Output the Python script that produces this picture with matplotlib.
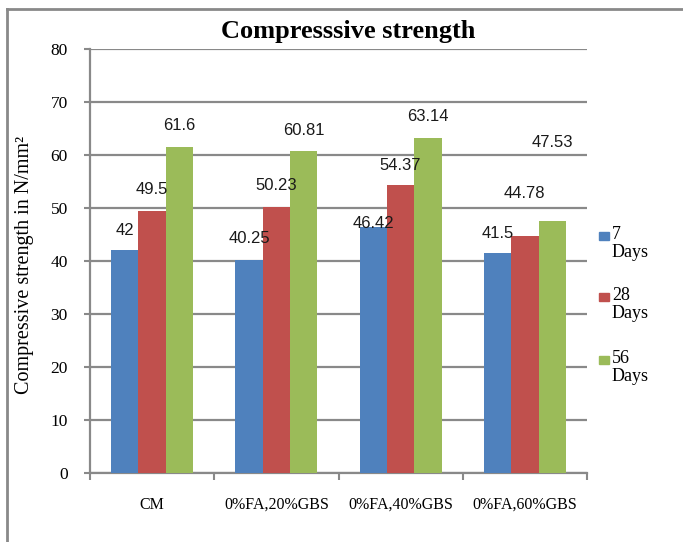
import matplotlib
matplotlib.use('Agg')
import matplotlib.pyplot as plt
from matplotlib.lines import Line2D
from matplotlib.patches import Rectangle
import numpy as np

# data
categories = ['CM', '0%FA,20%GBS', '0%FA,40%GBS', '0%FA,60%GBS']
series = ['7\nDays', '28\nDays', '56\nDays']
day7 = [42, 40.25, 46.42, 41.5]
day28 = [49.5, 50.23, 54.37, 44.78]
day56 = [61.6, 60.81, 63.14, 47.53]
# where each value label sits (y, in data units) -- placed by hand in the original
label_y7 = [45.8, 44.2, 47.0, 45.1]
label_y28 = [53.4, 54.2, 58.1, 52.8]
label_y56 = [65.5, 64.7, 67.2, 62.3]

colors = ['#4F81BD', '#C0504D', '#9BBB59']
grey = '#898989'
serif = ['Liberation Serif', 'DejaVu Serif']
sans = ['Liberation Sans', 'DejaVu Sans']

fig = plt.figure(figsize=(6.83, 5.42), dpi=100)
ax = fig.add_axes([90 / 683, 1 - 473 / 542, 497 / 683, 424 / 542])

width = 0.22
x = np.arange(len(categories))
values = [day7, day28, day56]
labels_y = [label_y7, label_y28, label_y56]
for i, (vals, ly) in enumerate(zip(values, labels_y)):
    pos = x + (i - 1) * width
    ax.bar(pos, vals, width=width, color=colors[i], zorder=3)
    for px, v, y in zip(pos, vals, ly):
        ax.text(px, y, '{:g}'.format(v), ha='center', va='center',
                fontsize=12, family=sans, color='#1a1a1a', zorder=4)

ax.set_xlim(-0.5, len(categories) - 0.5)
ax.set_ylim(0, 80)
ax.set_yticks(range(0, 81, 10))
ax.set_yticklabels([str(v) for v in range(0, 81, 10)], family=serif, fontsize=12.5)
ax.tick_params(axis='y', length=4, width=1.5, color=grey, pad=12)

# boundary tick marks + centred category labels
ax.set_xticks(np.arange(-0.5, len(categories), 1.0))
ax.set_xticklabels([])
ax.tick_params(axis='x', which='major', direction='out', length=5, width=1.5, color=grey)
ax.set_xticks(x, minor=True)
ax.set_xticklabels(categories, minor=True, family=serif, fontsize=11.5)
ax.tick_params(axis='x', which='minor', length=0, pad=17)

ax.grid(axis='y', color=grey, linewidth=1.6, zorder=0)
for s in ['top', 'right']:
    ax.spines[s].set_visible(False)
for s in ['left', 'bottom']:
    ax.spines[s].set_color(grey)
    ax.spines[s].set_linewidth(1.6)

ax.set_title('Compresssive strength', family=serif, fontsize=19,
             fontweight='bold', pad=8, x=0.52)
ax.set_ylabel('Compressive strength in N/mm²', family=serif, fontsize=14.5)
ax.yaxis.set_label_coords(-0.112, 0.49)

# legend, drawn by hand so the square sits on the first text line
leg_y = [236, 297, 360]
for name, c, yy in zip(series, colors, leg_y):
    fig.add_artist(Rectangle((599 / 683, 1 - (yy + 4) / 542), 10 / 683, 8 / 542,
                             transform=fig.transFigure, color=c))
    fig.text(612 / 683, 1 - (yy - 10) / 542, name, family=serif, fontsize=13,
             va='top', ha='left', linespacing=1.1)

# outer chart frame (only left and top edges visible)
fig.add_artist(Line2D([7 / 683, 7 / 683], [0, 1 - 9 / 542], color=grey, lw=2,
                      transform=fig.transFigure))
fig.add_artist(Line2D([7 / 683, 1], [1 - 9 / 542, 1 - 9 / 542], color=grey, lw=2,
                      transform=fig.transFigure))

plt.savefig('out.png', dpi=100)
